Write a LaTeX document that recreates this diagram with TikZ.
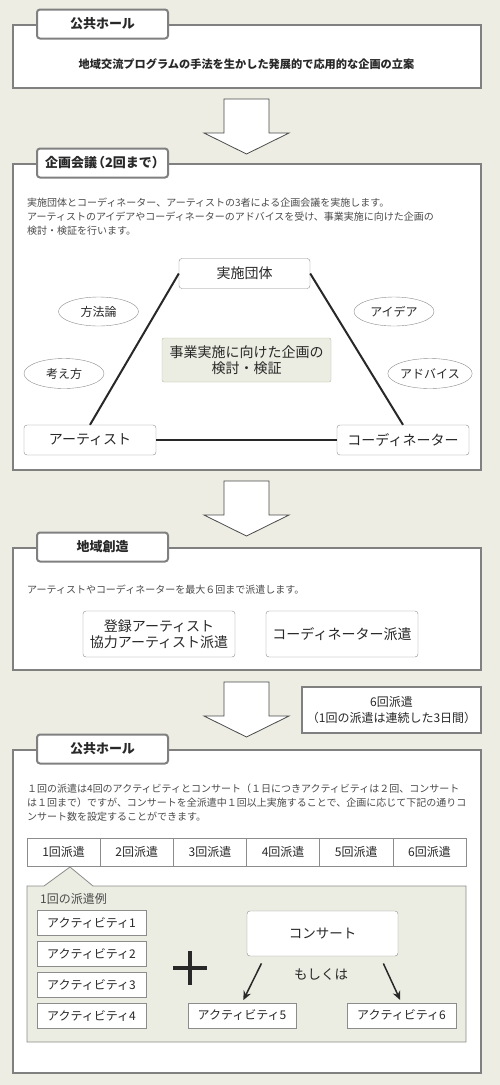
\documentclass[tikz,border=0pt]{standalone}
\usepackage{fontspec}
\setmainfont{Noto Sans CJK JP}
\definecolor{pagebg}{RGB}{237,237,228}
\definecolor{framegray}{RGB}{128,128,128}
\definecolor{linegray}{RGB}{140,140,140}
\definecolor{inkdark}{RGB}{40,40,40}
\definecolor{inkgray}{RGB}{75,75,75}
\definecolor{olivebg}{RGB}{236,237,226}
\definecolor{olivedraw}{RGB}{185,185,155}
\usetikzlibrary{shapes.geometric, arrows.meta, positioning}

\begin{document}
\begin{tikzpicture}[
      x=1pt, y=-1pt,
      secbox/.style={rectangle, draw=framegray, line width=2pt, fill=white, inner sep=0pt},
      tabbox/.style={rectangle, draw=framegray, line width=2pt, fill=white, rounded corners=3pt, minimum width=131pt, minimum height=29pt, inner sep=0pt, text=inkdark, font=\fontsize{13}{15}\selectfont\bfseries},
      note/.style={anchor=west, align=left, inner sep=0pt, text=inkgray, font=\fontsize{10}{14}\selectfont},
      partybox/.style={rectangle, draw=linegray, fill=white, rounded corners=3pt, minimum width=131pt, minimum height=30pt, inner sep=0pt, text=inkdark, font=\fontsize{14}{16}\selectfont},
      bubble/.style={ellipse, draw=linegray, fill=white, minimum width=80pt, minimum height=29pt, inner sep=0pt, text=inkdark, font=\fontsize{12}{14}\selectfont},
      goalbox/.style={rectangle, draw=olivedraw, fill=olivebg, rounded corners=2pt, minimum width=169pt, minimum height=44pt, inner sep=0pt, align=center, text=inkdark, font=\fontsize{14}{16}\selectfont},
      sendbox/.style={rectangle, draw=linegray, fill=white, rounded corners=3pt, minimum width=152pt, minimum height=46pt, inner sep=0pt, align=center, text=inkdark, font=\fontsize{14}{16}\selectfont},
      cellbox/.style={rectangle, draw=linegray, fill=white, minimum width=73.17pt, minimum height=28pt, inner sep=0pt, outer sep=0pt, text=inkdark, font=\fontsize{12}{14}\selectfont},
      actbox/.style={rectangle, draw=linegray, fill=white, minimum width=109pt, minimum height=25pt, inner sep=0pt, text=inkdark, font=\fontsize{12}{14}\selectfont},
      tri/.style={draw=inkdark, line width=2pt},
      pick/.style={draw=inkdark, line width=1.5pt, -{Stealth[length=9pt, width=8pt]}},
      bigarrow/.style={draw=inkgray, fill=white, line width=0.8pt}
    ]
      \useasboundingbox (0,0) rectangle (500,1085);
      \fill[pagebg] (0,0) rectangle (500,1085);

      % public hall, first step
      \node (hallone) [secbox, minimum width=468pt, minimum height=63pt] at (247,56.5) {};
      \node (hallonetab) [tabbox] at ([xshift=90.5pt]hallone.north west) {公共ホール};
      \node (plan) [font=\fontsize{11.2}{13}\selectfont\bfseries, text=inkdark] at (246.5,64) {地域交流プログラムの手法を生かした発展的で応用的な企画の立案};

      % block arrows between the steps
      \foreach \t in {99,481,682}
        \draw[bigarrow] (224,\t) -- (269,\t) -- (269,\t+34) -- (289,\t+34) -- (246.5,\t+55) -- (204,\t+34) -- (224,\t+34) -- cycle;

      % planning meeting
      \node (meeting) [secbox, minimum width=468pt, minimum height=306pt] at (247,317) {};
      \node (meetingtab) [tabbox] at ([xshift=90.5pt]meeting.north west) {企画会議\kern-5pt（2回まで）\kern-5pt};
      \node (meetingnote) [note] at (27,217) {実施団体とコーディネーター、アーティストの3者による企画会議を実施します。\\アーティストのアイデアやコーディネーターのアドバイスを受け、事業実施に向けた企画の\\検討・検証を行います。};

      \node (org) [partybox] at (244.5,273.5) {実施団体};
      \node (artist) [partybox, minimum width=132pt] at (90,440) {アーティスト};
      \node (coord) [partybox, minimum width=132pt] at (403,440) {コーディネーター};
      \node (goal) [goalbox] at (246.5,360) {事業実施に向けた企画の\\検討・検証};

      \draw[tri] (org.west) -- (artist.north);
      \draw[tri] (org.east) -- (coord.north);
      \draw[tri] (artist.east) -- (coord.west);

      \node (method) [bubble] at (98.5,311.5) {方法論};
      \node (thought) [bubble, minimum height=30pt] at (64,373.5) {考え方};
      \node (idea) [bubble] at (394,311.5) {アイデア};
      \node (advice) [bubble, minimum height=30pt] at (430,373.5) {アドバイス};

      % regional creation
      \node (region) [secbox, minimum width=468pt, minimum height=122pt] at (247,609) {};
      \node (regiontab) [tabbox] at ([xshift=90.5pt]region.north west) {地域創造};
      \node (regionnote) [note] at (27,590) {アーティストやコーディネーターを最大６回まで派遣します。};
      \node (sendartist) [sendbox] at (159,634) {登録アーティスト\\協力アーティスト派遣};
      \node (sendcoord) [sendbox] at (342,634) {コーディネーター派遣};

      \node (sixtimes) [secbox, minimum width=179pt, minimum height=46pt, align=center, text=inkdark, font=\fontsize{12}{16}\selectfont] at (391.5,710) {6回派遣\\（1回の派遣は連続した3日間）};

      % public hall, dispatches
      \node (halltwo) [secbox, minimum width=468pt, minimum height=323pt] at (247,911.5) {};
      \node (halltwotab) [tabbox] at ([xshift=90.5pt]halltwo.north west) {公共ホール};
      \node (halltwonote) [note] at (27,803) {１回の派遣は4回のアクティビティとコンサート（１日につきアクティビティは２回、コンサート\\は１回まで）ですが、コンサートを全派遣中１回以上実施することで、企画に応じて下記の通りコ\\ンサート数を設定することができます。};

      \foreach \i in {1,...,6}
        \node (visit\i) [cellbox] at ({27+(\i-0.5)*73.17},852) {\i 回派遣};

      % example of one dispatch
      \draw[draw=linegray, fill=olivebg, line width=0.8pt] (27,886) -- (44,886) -- (70,867) -- (93,886) -- (466,886) -- (466,1042) -- (27,1042) -- cycle;
      \node (example) [anchor=west, inner sep=0pt, text=inkgray, font=\fontsize{12}{14}\selectfont] at (40,899) {1回の派遣例};

      \foreach \i/\y in {1/923,2/954,3/985,4/1016}
        \node (act\i) [actbox] at (91.5,\y) {アクティビティ\i};

      \draw[draw=inkdark, line width=3.5pt] (173,968) -- (207,968) (190,951) -- (190,985);

      \node (concert) [sendbox, minimum width=151pt, minimum height=45pt, font=\fontsize{13.5}{16}\selectfont] at (322.5,933.5) {コンサート};
      \node (either) [text=inkdark, font=\fontsize{13.5}{16}\selectfont] at (321,974) {もしくは};
      \node (act5) [actbox, minimum width=108pt] at (242,1015.5) {アクティビティ5};
      \node (act6) [actbox] at (401.5,1015.5) {アクティビティ6};

      \draw[pick, shorten <=8pt, shorten >=3pt] ([xshift=-57.5pt]concert.south) -- (act5.north);
      \draw[pick, shorten <=8pt, shorten >=3pt] ([xshift=57.5pt]concert.south) -- (act6.north);
    \end{tikzpicture}
\end{document}
